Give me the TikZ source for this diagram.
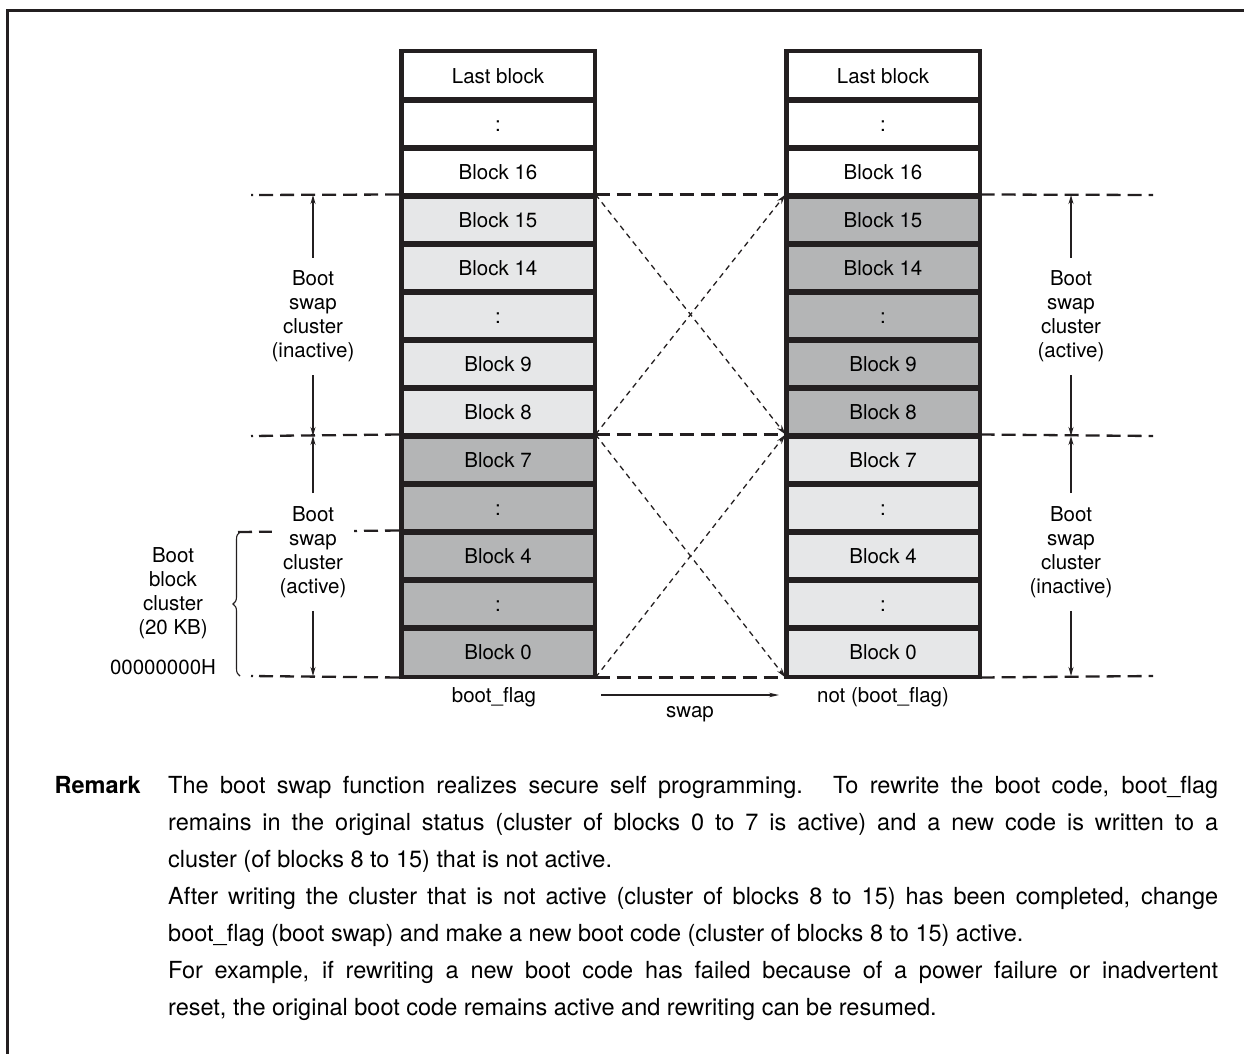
\documentclass[tikz,border=0pt]{standalone}
\usepackage{fontspec}
\setmainfont{TeX Gyre Heros}
\usetikzlibrary{arrows.meta,decorations.pathreplacing}
\definecolor{lgray}{RGB}{230,231,232}
\definecolor{dgray}{RGB}{180,181,182}
\definecolor{ink}{RGB}{35,31,32}
\begin{document}
\begin{tikzpicture}[x=1pt,y=-1pt,
  cell/.style={draw=ink,line width=3pt,minimum width=192pt,minimum height=48pt,inner sep=0pt,
    text height=15pt,text depth=0pt,font=\fontsize{20.5}{24}\selectfont},
  lab/.style={font=\fontsize{20.5}{24}\selectfont,align=center,inner xsep=3pt,inner ysep=13pt},
  txt/.style={font=\fontsize{20.5}{24}\selectfont,inner sep=0pt},
  dsh/.style={draw=ink,line width=2.3pt,dash pattern=on 14pt off 7pt},
  dshs/.style={draw=ink,line width=2.3pt,dash pattern=on 2pt off 6pt on 14pt off 7pt on 14pt off 7pt on 14pt off 7pt on 14pt off 7pt on 14pt off 7pt on 14pt off 7pt on 14pt off 7pt on 14pt off 7pt on 14pt off 7pt},
  dot/.style={draw=ink,line width=1.3pt,dash pattern=on 5.5pt off 4.5pt,-{Stealth[length=10pt,width=5.5pt]}},
  arr/.style={draw=ink,line width=1.2pt,-{Stealth[length=9pt,width=5pt]}},
  rem/.style={font=\fontsize{23.5}{28}\selectfont,inner sep=0pt,anchor=base west}
]
\useasboundingbox (0,0) rectangle (1244,1054);
\draw[ink,line width=3pt] (7,1054) -- (7,11) -- (1244,11);

% columns
\foreach \t/\fl/\fr [count=\i from 0] in {Last block/white/white, :/white/white, Block 16/white/white,
  Block 15/lgray/dgray, Block 14/lgray/dgray, :/lgray/dgray, Block 9/lgray/dgray, Block 8/lgray/dgray,
  Block 7/dgray/lgray, :/dgray/lgray, Block 4/dgray/lgray, :/dgray/lgray, Block 0/dgray/lgray}{
  \node[cell,fill=\fl] (L\i) at (498,{76+48*\i}) {\t};
  \node[cell,fill=\fr] (R\i) at (883,{76+48*\i}) {\t};
}
\foreach \i in {0,...,12}{
  \draw[ink,line width=3pt] (L\i.north west) rectangle (L\i.south east);
  \draw[ink,line width=3pt] (R\i.north west) rectangle (R\i.south east);
}

% end coordinates of dashed lines
\coordinate (la) at (251,195);
\coordinate (lb) at (251,436);
\coordinate (lc) at (238,532);
\coordinate (ld) at (251,676);
\coordinate (ra) at (1153,195);
\coordinate (rb) at (1153,436);
\coordinate (rd) at (1153,676);

\draw[dshs] (la) -- (L3.north west);
\draw[dshs] (lb) -- (L8.north west);
\draw[dsh] (lc) -- (L10.north west);
\draw[dshs] (ld) -- (L12.south west);
\draw[dsh] (R3.north east) -- (ra);
\draw[dsh] (R8.north east) -- (rb);
\draw[dsh] (R12.south east) -- (rd);
\draw[dsh] (L3.north east) -- (R3.north west);
\draw[dsh] (L8.north east) -- (R8.north west);
\draw[dsh] (L12.south east) -- (R12.south west);

% swap diagonals
\draw[dot] (L3.north east) -- (R8.north west);
\draw[dot] (L8.north east) -- (R3.north west);
\draw[dot] (L8.north east) -- (R12.south west);
\draw[dot] (L12.south east) -- (R8.north west);

% cluster labels and arrows
\node[lab] (ul) at (313,316.5) {Boot\\swap\\cluster\\(inactive)};
\node[lab,fill=white,inner xsep=8pt] (dl) at (313,552) {Boot\\swap\\cluster\\(active)};
\node[lab] (ur) at (1071,316.5) {Boot\\swap\\cluster\\(active)};
\node[lab] (dr) at (1071,552) {Boot\\swap\\cluster\\(inactive)};
\coordinate (ula) at (313,195); \coordinate (ulb) at (313,436);
\coordinate (dla) at (313,436); \coordinate (dlb) at (313,676);
\coordinate (ura) at (1071,195); \coordinate (urb) at (1071,436);
\coordinate (dra) at (1071,436); \coordinate (drb) at (1071,676);
\draw[arr] (ul.north) -- (ula);
\draw[arr] (ul.south) -- (ulb);
\draw[arr] (dl.north) -- (dla);
\draw[arr] (dl.south) -- (dlb);
\draw[arr] (ur.north) -- (ura);
\draw[arr] (ur.south) -- (urb);
\draw[arr] (dr.north) -- (dra);
\draw[arr] (dr.south) -- (drb);

% boot block cluster brace
\coordinate (bra) at (240,676);
\coordinate (brb) at (240,532);
\draw[ink,line width=1.1pt,decorate,decoration={brace,amplitude=7pt}] (bra) -- (brb);
\node[lab,inner sep=0pt] (bbc) at (173,593) {Boot\\block\\cluster\\(20 KB)};
\node[txt] (addr) at (163,667) {00000000H};

% flags
\node[txt] (bf) at (494,697) {boot\_flag};
\node[txt] (nbf) at (883,697) {not (boot\_flag)};
\node[txt] (sw) at (690,714) {swap};
\coordinate (swa) at (601,695);
\coordinate (swb) at (779,695);
\draw[arr,-{Stealth[length=10pt,width=4.5pt]}] (swa) -- (swb);

% remark
\node[rem,anchor=base east,font=\fontsize{23.5}{28}\selectfont\bfseries] (rk) at (141,793) {Remark};
\node[rem] (r1) at (168,793) {\makebox[1050pt][s]{The boot swap function realizes secure self programming.\hspace{0.3em} To rewrite the boot code, boot\_flag}};
\node[rem] (r2) at (168,830) {\makebox[1050pt][s]{remains in the original status (cluster of blocks 0 to 7 is active) and a new code is written to a}};
\node[rem] (r3) at (168,867) {cluster (of blocks 8 to 15) that is not active.};
\node[rem] (r4) at (168,904) {\makebox[1050pt][s]{After writing the cluster that is not active (cluster of blocks 8 to 15) has been completed, change}};
\node[rem] (r5) at (168,941) {boot\_flag (boot swap) and make a new boot code (cluster of blocks 8 to 15) active.};
\node[rem] (r6) at (168,978) {\makebox[1050pt][s]{For example, if rewriting a new boot code has failed because of a power failure or inadvertent}};
\node[rem] (r7) at (168,1015) {reset, the original boot code remains active and rewriting can be resumed.};
\end{tikzpicture}
\end{document}
